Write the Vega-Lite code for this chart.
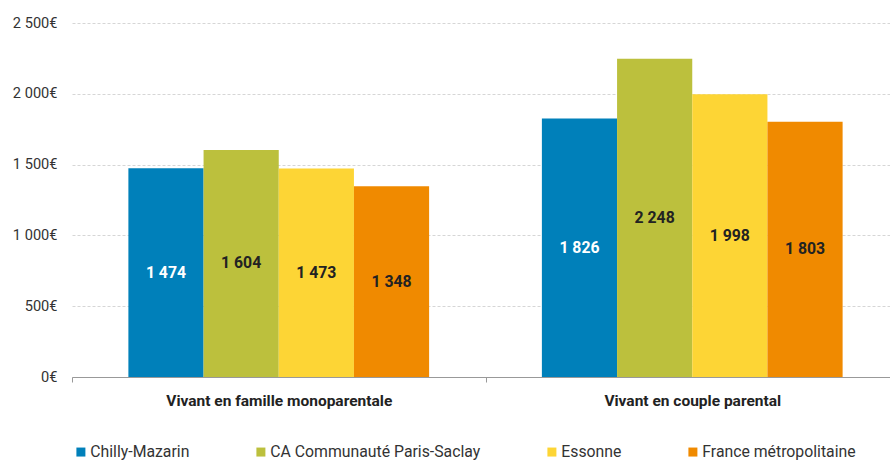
{
  "$schema": "https://vega.github.io/schema/vega-lite/v6.json",
  "width": 818,
  "height": 368,
  "autosize": "none",
  "padding": {"left": 72, "top": 9, "right": 0, "bottom": 85},
  "config": {
    "view": {"stroke": null},
    "font": "Roboto",
    "locale": {"number": {"decimal": ",", "thousands": " ", "grouping": [3], "currency": ["", "€"]}}
  },
  "data": {
    "values": [
      {"groupe": "Vivant en famille monoparentale", "serie": "Chilly-Mazarin", "valeur": 1474},
      {"groupe": "Vivant en famille monoparentale", "serie": "CA Communauté Paris-Saclay", "valeur": 1604},
      {"groupe": "Vivant en famille monoparentale", "serie": "Essonne", "valeur": 1473},
      {"groupe": "Vivant en famille monoparentale", "serie": "France métropolitaine", "valeur": 1348},
      {"groupe": "Vivant en couple parental", "serie": "Chilly-Mazarin", "valeur": 1826},
      {"groupe": "Vivant en couple parental", "serie": "CA Communauté Paris-Saclay", "valeur": 2248},
      {"groupe": "Vivant en couple parental", "serie": "Essonne", "valeur": 1998},
      {"groupe": "Vivant en couple parental", "serie": "France métropolitaine", "valeur": 1803}
    ]
  },
  "transform": [{"calculate": "datum.valeur / 2", "as": "milieu"}],
  "encoding": {
    "x": {
      "field": "groupe", "type": "nominal",
      "sort": ["Vivant en famille monoparentale", "Vivant en couple parental"],
      "scale": {"range": [0, 827], "paddingInner": 0, "paddingOuter": 0},
      "axis": {
        "title": null, "labelAngle": 0, "labelFont": "Roboto", "labelFontWeight": "bold",
        "labelFontSize": 15.5, "labelColor": "#222", "labelPadding": 11, "labelLimit": 0,
        "domainColor": "#999", "tickColor": "#999", "tickBand": "extent", "tickSize": 5
      }
    },
    "xOffset": {
      "field": "serie", "type": "nominal",
      "sort": ["Chilly-Mazarin", "CA Communauté Paris-Saclay", "Essonne", "France métropolitaine"],
      "scale": {"paddingInner": 0, "paddingOuter": 0.75}
    }
  },
  "layer": [
    {
      "mark": {"type": "bar"},
      "encoding": {
        "y": {
          "field": "valeur", "type": "quantitative",
          "scale": {"domain": [0, 2500]},
          "axis": {
            "title": null, "values": [0, 500, 1000, 1500, 2000, 2500], "format": "$,.0f",
            "domain": false, "ticks": false, "grid": true, "gridDash": [3, 2], "gridColor": "#d6d6d6",
            "labelFontSize": 14.6, "labelColor": "#333", "labelPadding": 15
          }
        },
        "color": {
          "field": "serie", "type": "nominal",
          "sort": ["Chilly-Mazarin", "CA Communauté Paris-Saclay", "Essonne", "France métropolitaine"],
          "scale": {"range": ["#0080BA", "#BCC03D", "#FDD535", "#F08A00"]},
          "legend": {
            "title": null, "orient": "none", "legendX": 1, "legendY": 435,
            "direction": "horizontal", "columns": 4, "columnPadding": 63,
            "symbolType": "square", "symbolSize": 81, "symbolStrokeWidth": 0, "symbolOpacity": 1,
            "labelFontSize": 15.8, "labelColor": "#333", "labelOffset": 1.5, "labelLimit": 0
          }
        }
      }
    },
    {
      "mark": {"type": "text", "fontWeight": "bold", "fontSize": 15.8, "baseline": "middle", "align": "center"},
      "encoding": {
        "y": {"field": "milieu", "type": "quantitative"},
        "text": {"field": "valeur", "type": "quantitative", "format": ",.0f"},
        "color": {"condition": {"test": "datum.serie === 'Chilly-Mazarin'", "value": "white"}, "value": "#222"}
      }
    }
  ]
}
